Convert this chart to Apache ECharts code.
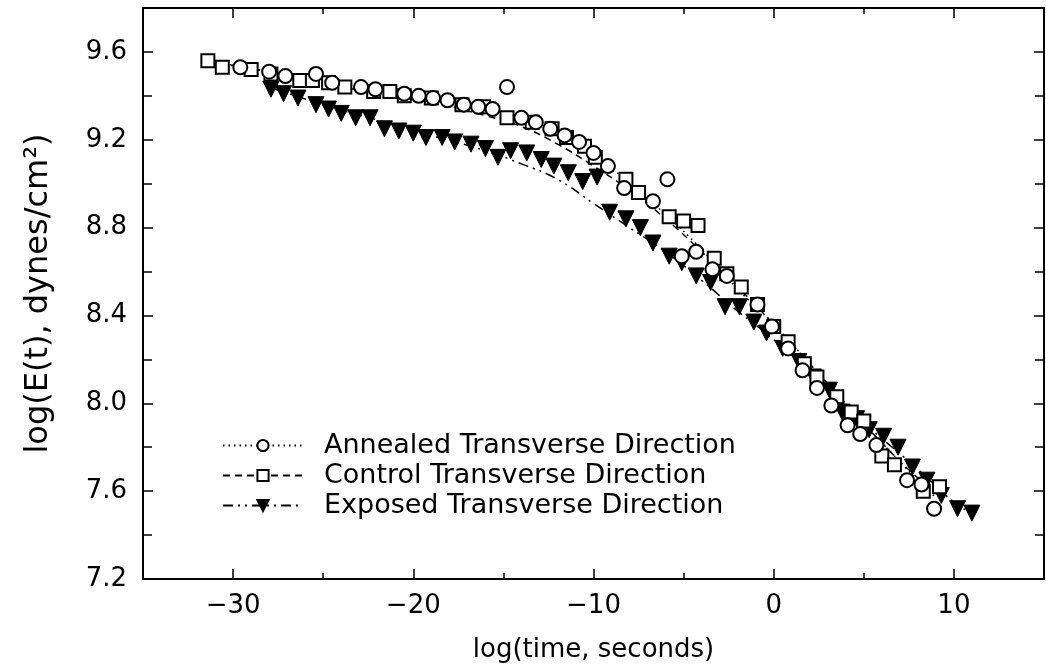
<!DOCTYPE html>
<html>
<head>
<meta charset="utf-8">
<script src="https://cdn.jsdelivr.net/npm/echarts@6/dist/echarts.min.js"></script>
<style>
html,body{margin:0;padding:0;background:#fff;}
#chart{width:1046px;height:671px;}
</style>
</head>
<body>
<div id="chart"></div>
<script>
// ---- data ----
const seriesNames = ['Annealed Transverse Direction', 'Control Transverse Direction', 'Exposed Transverse Direction'];

const annealedPts = [
  [-29.6, 9.53], [-28.0, 9.51], [-27.1, 9.49], [-25.4, 9.50], [-24.5, 9.46], [-22.9, 9.44],
  [-22.1, 9.43], [-20.5, 9.41], [-19.7, 9.40], [-18.9, 9.39], [-18.1, 9.38], [-17.2, 9.36],
  [-16.4, 9.35], [-15.6, 9.34], [-14.8, 9.44], [-14.0, 9.30], [-13.2, 9.28], [-12.4, 9.25],
  [-11.6, 9.22], [-10.8, 9.19], [-10.0, 9.14], [-9.2, 9.08], [-8.3, 8.98], [-6.7, 8.92],
  [-5.9, 9.02], [-5.1, 8.67], [-4.3, 8.69], [-3.4, 8.61], [-2.6, 8.58], [-0.9, 8.45],
  [-0.1, 8.35], [0.8, 8.25], [1.6, 8.15], [2.4, 8.07], [3.2, 7.99], [4.1, 7.90],
  [4.8, 7.86], [5.7, 7.81], [7.4, 7.65], [8.2, 7.63], [8.9, 7.52]
];

const controlPts = [
  [-31.4, 9.56], [-30.6, 9.53], [-29.0, 9.52], [-27.9, 9.50], [-26.3, 9.47], [-25.6, 9.47],
  [-24.7, 9.46], [-23.8, 9.44], [-22.2, 9.42], [-21.3, 9.42], [-20.5, 9.40], [-19.0, 9.39],
  [-17.3, 9.36], [-16.1, 9.35], [-14.8, 9.30], [-13.4, 9.28], [-12.3, 9.25], [-11.5, 9.21],
  [-10.5, 9.17], [-9.9, 9.12], [-8.2, 9.02], [-7.5, 8.96], [-5.8, 8.85], [-5.0, 8.83],
  [-4.2, 8.81], [-3.3, 8.66], [-2.6, 8.59], [-1.8, 8.53], [-0.9, 8.45], [0.0, 8.35],
  [0.8, 8.28], [1.7, 8.18], [2.4, 8.12], [3.5, 8.03], [4.3, 7.96], [5.0, 7.92],
  [6.0, 7.76], [6.7, 7.72], [8.3, 7.60], [9.2, 7.62]
];

const exposedPts = [
  [-27.9, 9.43], [-27.2, 9.41], [-26.4, 9.39], [-25.4, 9.36], [-24.7, 9.34], [-24.0, 9.32],
  [-23.2, 9.30], [-22.4, 9.30], [-21.6, 9.25], [-20.8, 9.24], [-20.0, 9.23], [-19.3, 9.21],
  [-18.4, 9.21], [-17.7, 9.19], [-16.8, 9.18], [-16.0, 9.16], [-15.3, 9.12], [-14.6, 9.15],
  [-13.7, 9.14], [-12.9, 9.11], [-12.2, 9.08], [-11.4, 9.05], [-10.6, 9.01], [-9.8, 9.03],
  [-9.1, 8.87], [-8.2, 8.84], [-7.4, 8.80], [-6.7, 8.73], [-5.8, 8.67], [-5.1, 8.64],
  [-4.3, 8.58], [-3.5, 8.55], [-2.7, 8.44], [-1.9, 8.44], [-1.1, 8.37], [-0.4, 8.32],
  [0.5, 8.25], [1.4, 8.19], [2.2, 8.12], [3.1, 8.06], [3.8, 7.96], [4.6, 7.93],
  [5.3, 7.88], [6.1, 7.85], [6.9, 7.80], [7.7, 7.71], [8.5, 7.65], [9.3, 7.58],
  [10.2, 7.52], [11.0, 7.50]
];

// fitted curves
const annealedFit = [
  [-31, 9.55], [-28, 9.51], [-25, 9.47], [-22, 9.43], [-19, 9.40], [-16, 9.35], [-14, 9.30],
  [-12, 9.24], [-10, 9.14], [-8, 9.00], [-6, 8.86], [-4, 8.70], [-2, 8.52], [0, 8.36],
  [2, 8.18], [4, 7.99], [6, 7.82], [8, 7.65], [9, 7.57]
];
const controlFit = [
  [-31.5, 9.56], [-28, 9.51], [-25, 9.46], [-22, 9.41], [-19, 9.37], [-16, 9.31], [-14, 9.26],
  [-12, 9.18], [-10, 9.08], [-8, 8.97], [-6, 8.84], [-4, 8.69], [-2, 8.53], [0, 8.36],
  [2, 8.18], [4, 8.00], [6, 7.82], [8, 7.66], [9.3, 7.58]
];
const exposedFit = [
  [-28, 9.44], [-25, 9.36], [-22, 9.29], [-19, 9.22], [-16, 9.15], [-14, 9.09], [-12, 9.02],
  [-10, 8.91], [-8, 8.80], [-6, 8.69], [-4, 8.56], [-2, 8.42], [0, 8.29], [2, 8.14],
  [4, 7.98], [6, 7.84], [8, 7.70], [10, 7.55], [11, 7.50]
];

const xMajorTicks = [-30, -20, -10, 0, 10];
const xMinorTicks = [-25, -15, -5, 5];
const yTickLabels = ['7.2', '7.6', '8.0', '8.4', '8.8', '9.2', '9.6'];

// ---- chart ----
const FONT = 'DejaVu Sans';
const chart = echarts.init(document.getElementById('chart'), null, {renderer: 'canvas'});

const fmtX = v => (v < 0 ? '\u2212' + Math.abs(v) : String(v));
const fmtY = v => { const s = Number(v).toFixed(1); return yTickLabels.indexOf(s) >= 0 ? s : ''; };

const axisLineStyle = {color: '#000', width: 2};
const xBase = {type: 'value', min: -35, max: 15, gridIndex: 0, splitLine: {show: false}};
const yBase = {type: 'value', min: 7.2, max: 9.8, interval: 0.4, gridIndex: 0, splitLine: {show: false}};

const lineStyles = [
  {color: '#000', width: 1.5, type: [1.5, 4]},
  {color: '#000', width: 1.5, type: [7, 5]},
  {color: '#000', width: 1.5, type: [10, 5, 2, 5, 2, 5]}
];
const symbols = ['circle', 'rect', 'triangle'];
const rotates = [0, 0, 180];
const itemStyles = [
  {color: '#fff', borderColor: '#000', borderWidth: 2, opacity: 1},
  {color: '#fff', borderColor: '#000', borderWidth: 2, opacity: 1},
  {color: '#000', borderColor: '#000', borderWidth: 1, opacity: 1}
];
const fits = [annealedFit, controlFit, exposedFit];
const pts = [annealedPts, controlPts, exposedPts];

const series = [];
for (let i = 0; i < 3; i++) {
  series.push({
    type: 'line', name: seriesNames[i], data: fits[i], smooth: true,
    showSymbol: false, symbol: symbols[i], symbolRotate: rotates[i],
    lineStyle: lineStyles[i], itemStyle: itemStyles[i],
    xAxisIndex: 0, yAxisIndex: 0, z: 2, silent: true
  });
}
const drawOrder = [2, 1, 0];
drawOrder.forEach((i, k) => {
  series.push({
    type: 'scatter', name: seriesNames[i], data: pts[i],
    symbol: symbols[i], symbolRotate: rotates[i],
    symbolSize: i === 2 ? 16 : (i === 1 ? 13 : 14),
    itemStyle: itemStyles[i], xAxisIndex: 0, yAxisIndex: 0, z: 3 + k
  });
});

const option = {
  backgroundColor: '#fff',
  animation: false,
  grid: {left: 143, right: 2, top: 8, bottom: 92, containLabel: false},
  legend: {
    show: true, orient: 'vertical', left: 217, top: 427,
    data: seriesNames, itemWidth: 80, itemHeight: 14, itemGap: 3,
    selectedMode: false,
    textStyle: {fontFamily: FONT, fontSize: 27, color: '#000', lineHeight: 26, padding: [0, 0, 0, 16]}
  },
  xAxis: [
    Object.assign({}, xBase, {
      position: 'bottom',
      axisLine: {show: true, onZero: false, lineStyle: axisLineStyle},
      axisTick: {show: true, inside: true, length: 10, customValues: xMajorTicks, lineStyle: {color: '#000', width: 1.5}},
      axisLabel: {show: true, customValues: xMajorTicks, formatter: fmtX, fontFamily: FONT, fontSize: 26, color: '#000', margin: 14},
      name: 'log(time, seconds)', nameLocation: 'middle', nameGap: 58,
      nameTextStyle: {fontFamily: FONT, fontSize: 26, color: '#000'}
    }),
    Object.assign({}, xBase, {
      position: 'bottom',
      axisLine: {show: false, onZero: false},
      axisTick: {show: true, inside: true, length: 6, customValues: xMinorTicks, lineStyle: {color: '#000', width: 1.5}},
      axisLabel: {show: false}
    }),
    Object.assign({}, xBase, {
      position: 'top',
      axisLine: {show: true, onZero: false, lineStyle: axisLineStyle},
      axisTick: {show: true, inside: true, length: 10, customValues: xMajorTicks, lineStyle: {color: '#000', width: 1.5}},
      axisLabel: {show: false}
    }),
    Object.assign({}, xBase, {
      position: 'top',
      axisLine: {show: false, onZero: false},
      axisTick: {show: true, inside: true, length: 6, customValues: xMinorTicks, lineStyle: {color: '#000', width: 1.5}},
      axisLabel: {show: false}
    })
  ],
  yAxis: [
    Object.assign({}, yBase, {
      position: 'left',
      axisLine: {show: true, onZero: false, lineStyle: axisLineStyle},
      axisTick: {show: true, inside: true, length: 10, lineStyle: {color: '#000', width: 1.5}},
      minorTick: {show: true, splitNumber: 2, length: 9, lineStyle: {color: '#000', width: 1.5}},
      axisLabel: {show: true, formatter: fmtY, showMaxLabel: false, fontFamily: FONT, fontSize: 26, color: '#000', margin: 16},
      name: 'log(E(t), dynes/cm\u00B2)', nameLocation: 'middle', nameGap: 88, nameRotate: 90,
      nameTextStyle: {fontFamily: FONT, fontSize: 32, color: '#000'}
    }),
    Object.assign({}, yBase, {
      position: 'right',
      axisLine: {show: true, onZero: false, lineStyle: axisLineStyle},
      axisTick: {show: true, inside: true, length: 10, lineStyle: {color: '#000', width: 1.5}},
      minorTick: {show: true, splitNumber: 2, length: 9, lineStyle: {color: '#000', width: 1.5}},
      axisLabel: {show: false}
    })
  ],
  series: series
};
chart.setOption(option);
</script>
</body>
</html>
